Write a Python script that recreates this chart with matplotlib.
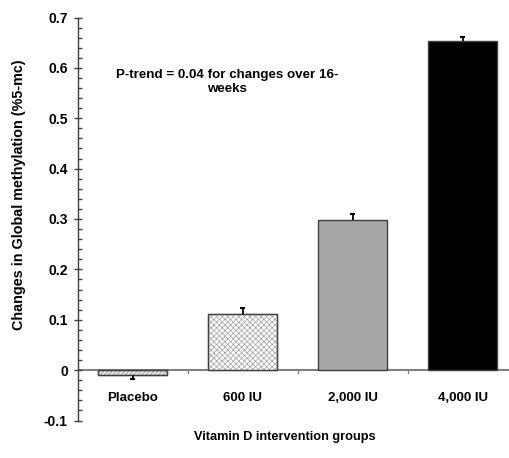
import matplotlib
matplotlib.use("Agg")
import matplotlib.pyplot as plt
from matplotlib.ticker import MultipleLocator

plt.rcParams['font.family'] = ['Liberation Sans', 'DejaVu Sans']
plt.rcParams['font.weight'] = 'bold'
plt.rcParams['hatch.linewidth'] = 0.5

categories = ["Placebo", "600 IU", "2,000 IU", "4,000 IU"]
values = [-0.009, 0.111, 0.299, 0.653]
errors = [0.009, 0.013, 0.010, 0.009]
yticks = [-0.1, 0, 0.1, 0.2, 0.3, 0.4, 0.5, 0.6, 0.7]
ytick_labels = ["-0.1", "0", "0.1", "0.2", "0.3", "0.4", "0.5", "0.6", "0.7"]

W, H = 509, 458
fig = plt.figure(figsize=(W / 100, H / 100), dpi=100)
ax = fig.add_axes([77.5 / W, (H - 420.5) / H, 440 / W, (420.5 - 17.5) / H])

facecolors = ["#f0f0f0", "white", "#a6a6a6", "black"]
hatches = ["////////", "xxxxxx", None, None]
hatchcolors = ["#7a7a7a", "#a0a0a0", None, None]
x = list(range(len(categories)))
for i in x:
    b = ax.bar(i, values[i], width=0.636, color=facecolors[i], edgecolor="#404040",
               linewidth=1.0, zorder=2)
    if hatches[i]:
        b[0].set_hatch(hatches[i])
        b[0].set_edgecolor(hatchcolors[i])
        ax.bar(i, values[i], width=0.636, fill=False, edgecolor="#404040",
               linewidth=1.0, zorder=3)
    sign = 1 if values[i] >= 0 else -1
    end = values[i] + sign * errors[i]
    ax.plot([i, i], [values[i], end], color="black", linewidth=1.3, zorder=4,
            solid_capstyle="butt")
    ax.plot([i - 0.025, i + 0.025], [end, end], color="black", linewidth=1.5,
            zorder=4, solid_capstyle="butt")

ax.axhline(0, color="#808080", linewidth=1.5, zorder=1)
for bnd in [0.5, 1.5, 2.5]:
    ax.plot([bnd, bnd], [0, -0.006], color="#808080", linewidth=1, zorder=1)

ax.set_xlim(-0.5, 3.5)
ax.set_ylim(-0.1, 0.7)
ax.set_yticks(yticks)
ax.set_yticklabels(ytick_labels)
ax.yaxis.set_minor_locator(MultipleLocator(0.02))
ax.tick_params(axis='y', which='major', direction='inout', length=6, width=1,
               color="#404040", labelsize=10, pad=4)
ax.tick_params(axis='y', which='minor', direction='in', length=3, width=1, color="#404040")
ax.set_xticks([])
for s in ["top", "right", "bottom"]:
    ax.spines[s].set_visible(False)
ax.spines["left"].set_color("#404040")
ax.spines["left"].set_linewidth(1)

for i in x:
    ax.text(i, -0.055, categories[i], ha="center", va="center", fontsize=9.5,
            fontweight="bold")

fig.text(19 / W, 1 - 195 / H, "Changes in Global methylation (%5-mc)", rotation=90,
         ha="center", va="center", fontsize=10.4, fontweight="bold")
fig.text(285 / W, 1 - 437 / H, "Vitamin D intervention groups", ha="center",
         va="center", fontsize=9.2, fontweight="bold")
fig.text(227 / W, 1 - 82 / H, "P-trend = 0.04 for changes over 16-\nweeks",
         ha="center", va="center", fontsize=9.6, fontweight="bold", linespacing=1.15)

fig.savefig("out.png", dpi=100)
